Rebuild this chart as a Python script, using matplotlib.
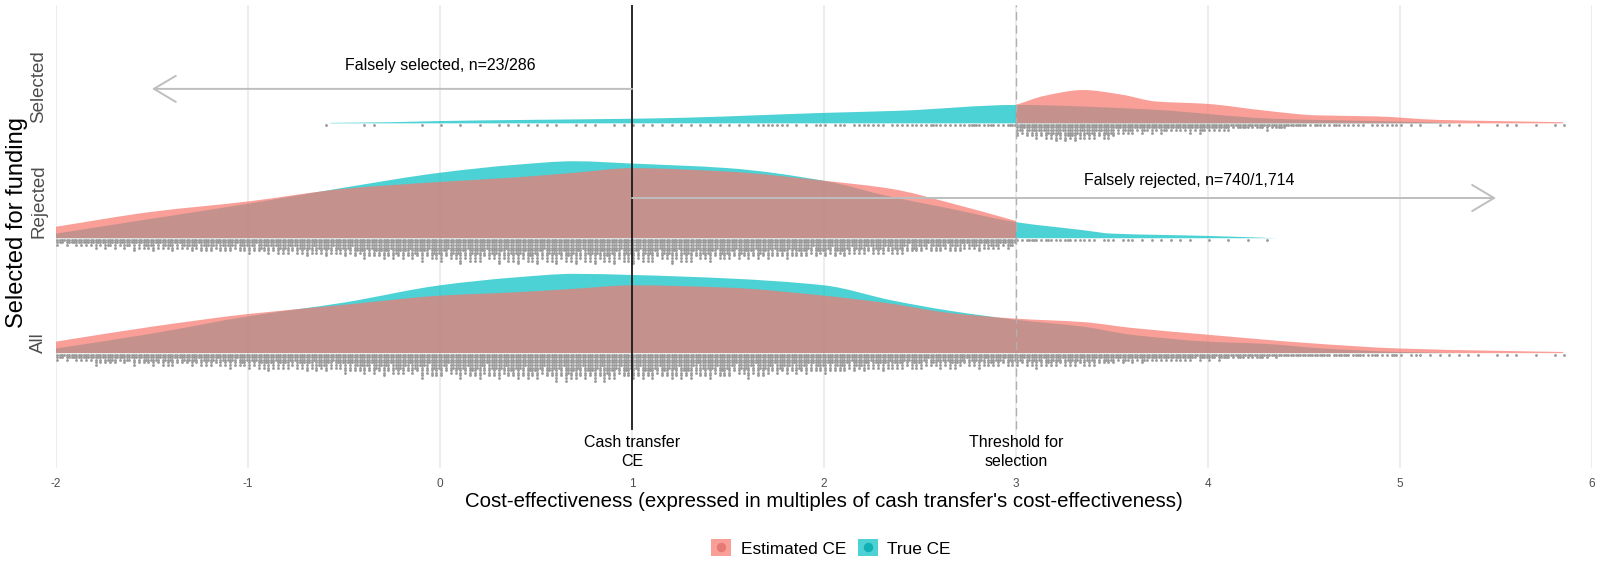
import numpy as np
import matplotlib.pyplot as plt
from matplotlib.patches import Patch, PathPatch
from matplotlib.path import Path
from matplotlib.lines import Line2D
from matplotlib.transforms import blended_transform_factory

plt.rcParams['font.family'] = ['Liberation Sans', 'DejaVu Sans']

# ---- values ----
groups = ['All', 'Rejected', 'Selected']
group_pos = [1, 2, 3]

# ridge heights, 1 = distance between two ridges
all_est_x = [-2, -1.5, -1, -0.5, 0, 0.4, 0.7, 1.0, 1.5, 2.0, 2.35, 2.65, 3.0, 3.35, 3.6, 4.0, 4.5, 5.0, 5.5, 5.85]
all_est_h = [0.10, 0.23, 0.34, 0.42, 0.50, 0.53, 0.56, 0.59, 0.57, 0.50, 0.43, 0.35, 0.30, 0.27, 0.22, 0.16, 0.09, 0.04, 0.02, 0.01]
all_true_x = [-2, -1.5, -1, -0.5, 0, 0.4, 0.7, 1.0, 1.5, 2.0, 2.35, 2.65, 3.0, 3.35, 3.6, 4.0, 4.3, 4.6, 5.0, 5.3]
all_true_h = [0.04, 0.17, 0.32, 0.44, 0.59, 0.66, 0.69, 0.68, 0.65, 0.59, 0.46, 0.37, 0.29, 0.23, 0.16, 0.10, 0.08, 0.04, 0.01, 0.0]

rej_est_x = [-2, -1.5, -1, -0.5, 0, 0.4, 0.7, 1.0, 1.5, 2.0, 2.35, 2.65, 3.0]
rej_est_h = [0.10, 0.23, 0.32, 0.43, 0.49, 0.53, 0.57, 0.61, 0.58, 0.50, 0.43, 0.31, 0.15]
rej_true_x = [-2, -1.5, -1, -0.5, 0, 0.4, 0.7, 1.0, 1.5, 2.0, 2.35, 2.65, 3.0, 3.35, 3.5, 4.0, 4.36]
rej_true_h = [0.04, 0.17, 0.30, 0.44, 0.57, 0.64, 0.67, 0.65, 0.61, 0.50, 0.36, 0.26, 0.14, 0.07, 0.04, 0.02, 0.0]

sel_est_x = [3.0, 3.15, 3.35, 3.55, 3.73, 3.99, 4.3, 4.56, 4.88, 5.2, 5.5, 5.85]
sel_est_h = [0.16, 0.24, 0.29, 0.25, 0.19, 0.17, 0.11, 0.07, 0.06, 0.03, 0.02, 0.01]
sel_true_x = [-0.57, -0.25, 0.0, 0.46, 1.0, 1.3, 1.65, 1.98, 2.4, 3.0, 3.7, 4.34, 5.0, 5.3]
sel_true_h = [0.004, 0.01, 0.02, 0.03, 0.04, 0.05, 0.07, 0.09, 0.11, 0.16, 0.12, 0.04, 0.015, 0.0]

# dot stacks: number of points in each 0.1-wide bin
bin_width = 0.1
all_dot_start = -2.0
all_dots = [17, 20, 27, 23, 27, 30, 27, 30, 30, 33,
            37, 40, 37, 43, 40, 47, 50, 53, 50, 57,
            53, 60, 57, 60, 63, 60, 67, 63, 67, 60,
            63, 60, 63, 57, 60, 53, 57, 50, 50, 47,
            47, 43, 40, 40, 37, 33, 37, 30, 33, 30,
            30, 33, 30, 30, 27, 23, 23, 20, 20, 17,
            17, 13, 13, 10, 8, 8, 7, 7, 5, 5,
            3, 2, 2, 2, 1, 2, 1, 1, 2]
rej_dot_start = -2.0
rej_dots = [17, 20, 23, 23, 27, 27, 27, 30, 30, 30,
            33, 37, 37, 40, 40, 43, 47, 50, 50, 53,
            53, 57, 53, 57, 60, 57, 60, 57, 60, 57,
            57, 53, 57, 53, 53, 50, 50, 47, 47, 43,
            43, 40, 37, 37, 33, 30, 30, 27, 27, 23,
            6, 5, 5, 4, 3, 3, 2, 2, 2, 1,
            1, 1, 1, 1]
sel_dot_start = -0.6
sel_dots = [1, 0, 2, 0, 0, 1, 1, 1, 1, 2,
            2, 2, 1, 2, 1, 2, 2, 2, 2, 2,
            2, 2, 3, 4, 2, 3, 3, 3, 4, 3,
            4, 5, 4, 6, 5, 6, 30, 37, 43, 40,
            37, 27, 23, 23, 20, 23, 20, 15, 13, 15,
            8, 5, 5, 4, 3, 4, 2, 1, 2, 1,
            1, 2, 1, 1, 2]

cash_ce = 1
threshold = 3

est_color = '#F8766D'
true_color = '#00BFC4'

# ---- figure ----
fig = plt.figure(figsize=(16, 5.77), dpi=100)
ax = fig.add_axes([56 / 1600, 1 - 468 / 577, 1536 / 1600, 463 / 577])
ax.set_xlim(-2, 6)
ax.set_ylim(0, 4.03)


def ridge(x, h, base, color):
    # smooth (monotone cubic) outline through the read points
    x = np.asarray(x, float)
    y = base + np.asarray(h, float)
    d = np.diff(y) / np.diff(x)
    m = np.zeros_like(y)
    m[0], m[-1] = d[0], d[-1]
    for i in range(1, len(y) - 1):
        if d[i - 1] * d[i] > 0:
            m[i] = 2 / (1 / d[i - 1] + 1 / d[i])
    verts = [(x[0], base), (x[0], y[0])]
    codes = [Path.MOVETO, Path.LINETO]
    for i in range(len(x) - 1):
        dx = x[i + 1] - x[i]
        verts += [(x[i] + dx / 3, y[i] + m[i] * dx / 3),
                  (x[i + 1] - dx / 3, y[i + 1] - m[i + 1] * dx / 3),
                  (x[i + 1], y[i + 1])]
        codes += [Path.CURVE4] * 3
    verts += [(x[-1], base), (x[0], base)]
    codes += [Path.LINETO, Path.CLOSEPOLY]
    ax.add_patch(PathPatch(Path(verts, codes), facecolor=color, alpha=0.7,
                           edgecolor='none', zorder=2))


ridges = [
    (3, sel_true_x, sel_true_h, sel_est_x, sel_est_h),
    (2, rej_true_x, rej_true_h, rej_est_x, rej_est_h),
    (1, all_true_x, all_true_h, all_est_x, all_est_h),
]
for base, tx, th, ex, eh in ridges:
    ridge(tx, th, base, true_color)
    ridge(ex, eh, base, est_color)


def draw_dots(start, counts, base):
    # each bin's points are stacked downward in 8 uneven columns
    weights = np.array([1.35, 0.75, 1.1, 0.6, 1.25, 0.9, 1.2, 0.85])
    ncols = len(weights)
    col_w = bin_width / ncols
    row_h = 2.6 / 115
    xs, ys = [], []
    for i, n in enumerate(counts):
        left = start + i * bin_width
        raw = n * weights / weights.sum()
        per_col = np.floor(raw).astype(int)
        rest = n - per_col.sum()
        for j in np.argsort(-(raw - per_col), kind='stable')[:rest]:
            per_col[j] += 1
        for c, k in enumerate(per_col):
            for r in range(k):
                xs.append(left + (c + 0.5) * col_w)
                ys.append(base - (r + 0.6) * row_h)
    ax.scatter(xs, ys, s=4.2, color='#9A9A9A', linewidths=0, zorder=3)


draw_dots(all_dot_start, all_dots, 1)
draw_dots(rej_dot_start, rej_dots, 2)
draw_dots(sel_dot_start, sel_dots, 3)

# reference lines
low = 0.342 / 4.03
ax.axvline(cash_ce, ymin=low, ymax=1, color='#1A1A1A', lw=1.3, zorder=4)
ax.axvline(threshold, ymin=low, ymax=1, color='#B0B0B0', lw=1.0,
           dashes=(6, 3.5), zorder=4)

ax.text(cash_ce, 0.138, 'Cash transfer\nCE', ha='center', va='center',
        fontsize=11.5, linespacing=1.35, zorder=5)
ax.text(threshold, 0.138, 'Threshold for\nselection', ha='center', va='center',
        fontsize=11.5, linespacing=1.35, zorder=5)

# arrows
arrow_style = dict(arrowstyle='->,head_length=0.79,head_width=0.47', color='#BEBEBE',
                   lw=1.4, mutation_scale=20, shrinkA=0, shrinkB=0)
ax.annotate('', xy=(-1.5, 3.3), xytext=(cash_ce, 3.3), arrowprops=arrow_style, zorder=5)
ax.annotate('', xy=(5.5, 2.35), xytext=(cash_ce, 2.35), arrowprops=arrow_style, zorder=5)
ax.text(0.0, 3.507, 'Falsely selected, n=23/286', ha='center', va='center', fontsize=11.5)
ax.text(3.9, 2.5, 'Falsely rejected, n=740/1,714', ha='center', va='center', fontsize=11.5)

# axes styling
ax.set_xticks(range(-2, 7))
ax.set_xticklabels([str(v) for v in range(-2, 7)])
ax.tick_params(axis='x', length=0, pad=7, labelsize=8.5, labelcolor='#4D4D4D')
ax.set_yticks([])
ax.grid(axis='x', color='#E8E8E8', lw=1.1, zorder=0)
ax.set_axisbelow(True)
for s in ax.spines.values():
    s.set_visible(False)

trans = blended_transform_factory(ax.transAxes, ax.transData)
for name, pos in zip(groups, group_pos):
    ax.text(-0.0111, pos, name, rotation=90, ha='center', va='bottom',
            fontsize=13.5, color='#4D4D4D', transform=trans)

fig.text(0.5 * (56 + 1592) / 1600, 1 - 501.7 / 577,
         "Cost-effectiveness (expressed in multiples of cash transfer's cost-effectiveness)",
         ha='center', va='center', fontsize=14.7)
fig.text(17 / 1600, 1 - 222 / 577, 'Selected for funding', rotation=90,
         ha='center', va='center', fontsize=17)

handles = [
    (Patch(facecolor=est_color, alpha=0.7, edgecolor='none'),
     Line2D([], [], marker='o', ls='', ms=5.8, color='#E57A74')),
    (Patch(facecolor=true_color, alpha=0.7, edgecolor='none'),
     Line2D([], [], marker='o', ls='', ms=5.8, color='#12AFB4')),
]
fig.legend(handles, ['Estimated CE', 'True CE'], loc='center',
           bbox_to_anchor=(0.5195, 1 - 548 / 577), ncol=2, frameon=False,
           fontsize=12.4, handlelength=1.15, handleheight=1.15,
           handletextpad=0.55, columnspacing=0.7)

fig.savefig('out.png', dpi=100)
